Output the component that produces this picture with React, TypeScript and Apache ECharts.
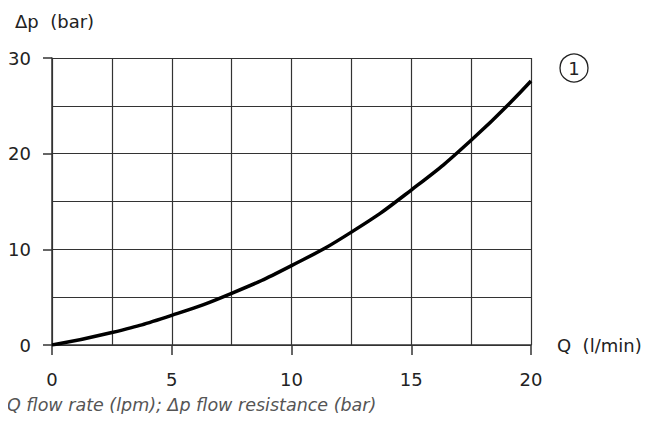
import React, { useEffect, useRef } from "react";
import * as echarts from "echarts";

const flowRate = [0, 2.5, 5, 7.5, 10, 12.5, 15, 17.5, 20];
const pressureDrop = [0, 1.3, 3.1, 5.4, 8.3, 11.8, 16.2, 21.4, 27.6];
const xLabelTicks = [0, 5, 10, 15, 20];
const yLabelTicks = [0, 10, 20, 30];
const xAxisName = "Q  (l/min)";
const yAxisName = "Δp  (bar)";
const curveLabel = "1";
const caption = "Q flow rate (lpm); Δp flow resistance (bar)";

const FONT = "DejaVu Sans";
const GRID = "#333333";

export default function App() {
  const ref = useRef<HTMLDivElement>(null);
  useEffect(() => {
    if (!ref.current) return;
    const chart = echarts.init(ref.current, null, { renderer: "svg" });
    const data = flowRate.map((x, i) => [x, pressureDrop[i]]);
    chart.setOption({
      animation: false,
      backgroundColor: "#ffffff",
      grid: { left: 52, right: 129, top: 58, bottom: 77, containLabel: false },
      title: {
        text: caption,
        left: 7,
        top: 396,
        padding: 0,
        textStyle: { fontFamily: FONT, fontStyle: "italic", fontWeight: "normal", fontSize: 17.5, color: "#555555" },
      },
      xAxis: [
        {
          type: "value",
          min: xLabelTicks[0],
          max: xLabelTicks[xLabelTicks.length - 1],
          interval: 5,
          name: xAxisName,
          nameLocation: "end",
          nameGap: 26,
          nameTextStyle: { fontFamily: FONT, fontSize: 18, color: "#222", verticalAlign: "middle" },
          axisLine: { show: true, lineStyle: { color: GRID, width: 1.5 } },
          axisTick: { show: true, length: 10, lineStyle: { color: GRID, width: 1.5 } },
          axisLabel: { fontFamily: FONT, fontSize: 18, color: "#222", margin: 25 },
          splitLine: { show: false },
        },
        {
          type: "value",
          min: 0,
          max: 20,
          interval: 2.5,
          position: "bottom",
          axisLine: { show: false },
          axisTick: { show: false },
          axisLabel: { show: false },
          splitLine: { show: true, lineStyle: { color: GRID, width: 1.2 } },
        },
      ],
      yAxis: [
        {
          type: "value",
          min: yLabelTicks[0],
          max: yLabelTicks[yLabelTicks.length - 1],
          interval: 10,
          axisLine: { show: true, lineStyle: { color: GRID, width: 1.5 } },
          axisTick: { show: true, length: 9, lineStyle: { color: GRID, width: 1.5 } },
          axisLabel: { fontFamily: FONT, fontSize: 18, color: "#222", margin: 21, padding: [5, 0, 0, 0] },
          splitLine: { show: false },
        },
        {
          type: "value",
          min: 0,
          max: 30,
          interval: 5,
          position: "left",
          axisLine: { show: false },
          axisTick: { show: false },
          axisLabel: { show: false },
          splitLine: { show: true, lineStyle: { color: GRID, width: 1.2 } },
        },
      ],
      series: [
        {
          type: "line",
          xAxisIndex: 0,
          yAxisIndex: 0,
          data,
          smooth: true,
          symbol: "none",
          lineStyle: { color: "#000000", width: 3.5 },
          z: 5,
        },
      ],
      graphic: [
        {
          type: "text",
          left: 15,
          top: 12,
          style: { text: yAxisName, fontFamily: FONT, fontSize: 18, fill: "#222" },
        },
        {
          type: "circle",
          shape: { cx: 574, cy: 68, r: 14 },
          style: { fill: "none", stroke: "#222", lineWidth: 1.3 },
        },
        {
          type: "text",
          x: 574,
          y: 68,
          style: { text: curveLabel, fontFamily: FONT, fontSize: 18, fill: "#222", align: "center", verticalAlign: "middle" },
        },
      ],
    });
    return () => chart.dispose();
  }, []);
  return <div ref={ref} style={{ width: 660, height: 422, margin: -8 }} />;
}
